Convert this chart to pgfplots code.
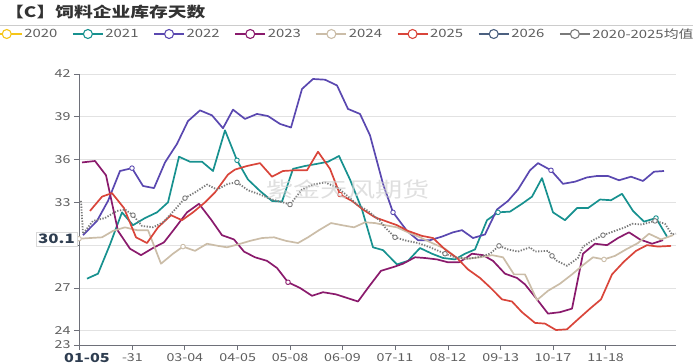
\documentclass[border=0pt]{standalone}
\usepackage{fontspec}
\setmainfont{Noto Sans CJK SC}[FakeStretch=1.3]
\usepackage{pgfplots}
\pgfplotsset{compat=1.18}
\definecolor{c20}{HTML}{F5C518}
\definecolor{c21}{HTML}{17918F}
\definecolor{c22}{HTML}{5A48B0}
\definecolor{c23}{HTML}{8A1A6C}
\definecolor{c24}{HTML}{CBBDA8}
\definecolor{c25}{HTML}{D9453A}
\definecolor{c26}{HTML}{4B6080}
\definecolor{cavg}{HTML}{7A7A7A}
\definecolor{axc}{HTML}{6E7079}
\definecolor{txt}{HTML}{5E5E5E}
\definecolor{gridc}{HTML}{E2E2E2}
\definecolor{navy}{HTML}{2E3D50}
\pgfplotsset{symb/.style={only marks, mark=*, mark size=2.3bp, line width=0.9bp, mark options={fill=white}}}
\begin{document}
\begin{tikzpicture}
\begin{axis}[
  at={(0,0)}, anchor=south west,
  scale only axis, width=597bp, height=271bp,
  xmin=0, xmax=597, ymin=23, ymax=42,
  axis x line*=bottom, axis y line*=left,
  axis line style={axc, line width=0.9bp},
  tick align=outside, major tick length=5bp,
  tick style={axc, line width=0.8bp},
  ytick={23,24,27,30,33,36,39,42},
  yticklabels={23,24,27,,33,36,39,42},
  ymajorgrids, grid style={gridc, line width=0.8bp},
  xtick={0,53.4,105.8,158.7,211.1,263.5,316,369,421.7,474,526.6},
  xticklabels={{\hspace{16bp}\fontsize{12.5}{14}\selectfont\bfseries\color{navy}01-05},-31,03-04,04-05,05-08,06-09,07-11,08-12,09-13,10-17,11-18},
  /pgf/number format/assume math mode=true,
  ticklabel style={font=\fontsize{11}{13}\selectfont, text=txt},
  clip mode=individual,
  legend columns=-1,
  legend cell align=left,
  legend style={at={(axis description cs:-0.1474,1.1476)}, anchor=west,
    draw=none, fill=none, inner sep=0pt, font=\fontsize{11.5}{13}\selectfont, text=txt,
    nodes={inner sep=2bp},
    /tikz/every even column/.append style={column sep=13bp}},
  legend image code/.code={\draw[#1, solid, line width=1.1bp, mark=*, mark size=4.5bp,
      mark repeat=2, mark phase=2, mark options={fill=white, solid, line width=1.1bp}]
      plot coordinates {(0bp,0bp) (15bp,0bp) (30bp,0bp)};},
  every axis plot/.append style={line width=1.7bp, line join=round},
]
\addlegendimage{c20}\addlegendentry{2020}

\addplot[c21] coordinates {
(8,27.65) (19,28.0) (31,30.05) (43,32.3) (54,31.4) (66,31.9) (78,32.3) (89,33.0) (100,36.2) (111,35.85) (123,35.85) (134,35.2) (146,38.05) (158,35.95) (169,34.6) (181,33.8) (193,33.1) (203,33.05) (214,35.35) (226,35.55) (238,35.7) (249,35.85) (260,36.25) (271,34.6) (283,32.5) (294,29.85) (304,29.65) (318,28.65) (329,28.9) (341,29.8) (353,29.4) (364,29.1) (376,29.0) (386,29.4) (396,29.7) (408,31.75) (419,32.3) (431,32.35) (443,32.9) (453,33.4) (463,34.7) (474,32.3) (486,31.75) (498,32.6) (509,32.6) (521,33.2) (532,33.15) (543,33.6) (554,32.4) (565,31.65) (577,31.9) (588,30.6)};
\addlegendentry{2021}

\addplot[c22] coordinates {
(4,30.7) (18,31.7) (29,33.1) (41,35.2) (53,35.4) (64,34.15) (75,34.0) (86,35.8) (98,37.1) (109,38.7) (121,39.45) (133,39.1) (144,38.2) (154,39.5) (166,38.85) (178,39.2) (189,39.05) (201,38.5) (212,38.25) (223,40.95) (234,41.65) (246,41.6) (258,41.2) (269,39.55) (281,39.2) (291,37.7) (304,34.3) (314,32.3) (328,31.0) (339,30.35) (351,30.35) (363,30.6) (374,30.9) (383,31.05) (394,30.5) (406,30.75) (418,32.5) (429,33.1) (439,33.9) (451,35.25) (459,35.75) (472,35.25) (484,34.3) (496,34.45) (508,34.75) (518,34.85) (529,34.85) (540,34.55) (552,34.8) (564,34.5) (575,35.15) (585,35.2)};
\addlegendentry{2022}

\addplot[c23] coordinates {
(3,35.8) (16,35.9) (27,34.9) (39,31.0) (51,29.75) (62,29.3) (74,29.8) (85,30.2) (95,31.1) (108,32.3) (120,32.9) (132,31.8) (143,30.7) (155,30.4) (165,29.55) (176,29.15) (188,28.9) (198,28.4) (209,27.4) (221,27.0) (233,26.45) (244,26.7) (257,26.55) (268,26.3) (279,26.05) (290,27.1) (302,28.2) (316,28.5) (324,28.7) (336,29.15) (346,29.1) (358,29.0) (369,28.8) (380,28.8) (386,29.05) (393,29.4) (404,29.3) (414,28.9) (426,28.0) (438,27.7) (446,27.25) (458,26.2) (469,25.2) (481,25.3) (493,25.55) (504,29.4) (516,30.1) (528,30.0) (539,30.5) (550,30.9) (561,30.4) (573,30.1) (584,30.35)};
\addlegendentry{2023}

\addplot[c24] coordinates {
(0,30.45) (11,30.5) (23,30.55) (34,31.0) (46,31.25) (58,31.05) (69,31.05) (82,28.7) (94,29.4) (104,29.9) (116,29.6) (128,30.1) (139,29.95) (148,29.85) (159,30.05) (171,30.3) (183,30.5) (195,30.55) (207,30.3) (219,30.15) (229,30.55) (240,31.05) (252,31.55) (263,31.4) (275,31.25) (286,31.6) (296,31.55) (306,31.4) (318,31.25) (329,30.9) (341,30.55) (353,30.15) (366,29.75) (378,29.1) (389,29.05) (401,29.15) (413,29.3) (424,29.15) (435,27.95) (446,27.95) (458,26.15) (469,26.8) (481,27.3) (493,27.95) (504,28.6) (514,29.15) (525,29.0) (536,29.25) (547,29.7) (559,30.15) (570,30.8) (582,30.4) (594,30.7)};
\addlegendentry{2024}

\addplot[c25] coordinates {
(11,32.4) (23,33.4) (33,33.65) (45,32.6) (57,30.55) (68,30.15) (79,31.25) (92,32.1) (103,31.75) (114,32.3) (126,33.0) (136,33.7) (149,34.95) (156,35.3) (168,35.55) (181,35.75) (193,34.8) (204,35.2) (216,35.25) (228,35.25) (239,36.55) (251,35.35) (261,33.55) (273,33.1) (284,32.5) (296,31.95) (306,31.7) (318,31.4) (329,31.0) (343,30.65) (354,30.5) (366,29.7) (378,29.1) (389,28.3) (401,27.7) (411,27.05) (423,26.2) (433,26.05) (443,25.3) (456,24.55) (466,24.5) (477,24.05) (488,24.1) (499,24.8) (511,25.55) (522,26.2) (533,27.95) (545,28.85) (557,29.6) (568,30.0) (579,29.9) (592,29.95)};
\addlegendentry{2025}

\addlegendimage{c26}\addlegendentry{2026}

\addplot[cavg, line width=1.8bp, dash pattern=on 1.3bp off 1.5bp] coordinates {
(2,33.1) (4,30.8) (14,31.7) (26,31.9) (38,32.4) (46,32.5) (54,32.1) (63,31.35) (74,31.25) (84,31.6) (96,32.5) (106,33.3) (116,33.7) (128,34.25) (138,33.9) (149,34.3) (158,34.4) (169,33.85) (181,33.55) (193,33.2) (204,33.0) (211,32.85) (223,33.9) (234,34.25) (246,34.4) (258,34.05) (266,33.6) (278,32.85) (289,32.4) (301,31.7) (306,31.25) (316,30.55) (328,30.3) (339,30.15) (351,29.85) (366,29.4) (376,29.15) (389,29.05) (399,29.15) (411,29.4) (420,29.95) (429,29.7) (439,29.55) (451,29.85) (456,29.55) (469,29.6) (473,29.25) (478,28.9) (488,28.55) (499,29.1) (504,29.9) (514,30.35) (524,30.7) (536,31.0) (546,31.25) (553,31.5) (563,31.45) (576,31.7) (586,31.5) (593,30.75) (597,30.8)};
\addlegendentry{2020-2025均值}

% sparse symbols
\addplot[forget plot, symb, c22] coordinates {(53,35.4) (314,32.3) (472,35.25)};
\addplot[forget plot, symb, c21] coordinates {(158,35.95) (419,32.3) (577,31.9)};
\addplot[forget plot, symb, c23] coordinates {(209,27.4)};
\addplot[forget plot, symb, c25] coordinates {(261,33.55)};
\addplot[forget plot, symb, c24] coordinates {(0,30.45) (104,29.9) (525,29.0)};
\addplot[forget plot, symb, cavg] coordinates {(54,32.1) (106,33.3) (158,34.4) (211,32.85) (316,30.55) (366,29.4) (420,29.95) (473,29.25) (524,30.7) (576,31.7)};

\node[font=\fontsize{21}{24}\selectfont, text=gray!35, opacity=0.7] at (axis cs:269,33.9) {紫金天风期货};
\node[anchor=east, xshift=-2bp, draw=gray!30, fill=white, font=\fontsize{13}{15}\selectfont\bfseries, text=navy, inner sep=2bp] at (axis cs:0,30.43) {30.1};
\end{axis}
\node[anchor=west, font=\fontsize{14.5}{16}\selectfont\bfseries, text=black!80, inner sep=0] at (-74bp,333bp) {【C】饲料企业库存天数};
\draw[black!20, line width=0.9bp] (-79bp,320bp) -- (614bp,320bp);
\pgfresetboundingbox
\path[use as bounding box] (-79bp,-19bp) rectangle (614bp,345bp);
\end{tikzpicture}
\end{document}
